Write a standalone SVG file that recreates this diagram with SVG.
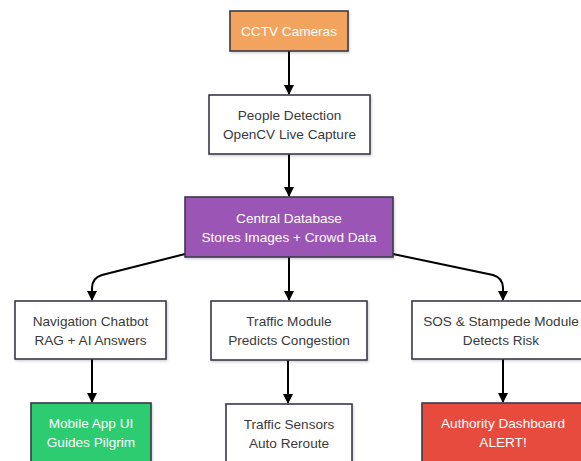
<svg xmlns="http://www.w3.org/2000/svg" width="581" height="461" viewBox="0 0 581 461">
<defs>
<marker id="ah" viewBox="0 0 10 10" refX="9" refY="5" markerWidth="10" markerHeight="10" markerUnits="userSpaceOnUse" orient="auto">
<path d="M0,0 L10,5 L0,10 z" fill="#000"/>
</marker>
<filter id="sh" x="-10%" y="-10%" width="120%" height="130%">
<feDropShadow dx="1" dy="1.5" stdDeviation="1.2" flood-color="#000" flood-opacity="0.18"/>
</filter>
</defs>
<style>
.box{stroke:#3a3a4a;stroke-width:1.6;filter:url(#sh)}
.w{fill:#fff}
.t{font-family:"Liberation Sans",Arial,sans-serif;font-size:13.6px;text-anchor:middle}
.d{fill:#3a3a3a}
.l{fill:#fff}
.c{fill:none;stroke:#000;stroke-width:2}
</style>
<rect width="581" height="461" fill="#fff"/>
<g id="connectors">
<path class="c" d="M289,51 L289,94" marker-end="url(#ah)"/>
<path class="c" d="M289,154 L289,196" marker-end="url(#ah)"/>
<path class="c" d="M185,254 L102,275 Q92,278 92,288 L92,300" marker-end="url(#ah)"/>
<path class="c" d="M289,257 L289,300" marker-end="url(#ah)"/>
<path class="c" d="M393,254 L493,275 Q503,278 503,288 L503,300" marker-end="url(#ah)"/>
<path class="c" d="M92,359 L92,402" marker-end="url(#ah)"/>
<path class="c" d="M288,360 L288,403" marker-end="url(#ah)"/>
<path class="c" d="M503,359 L503,402" marker-end="url(#ah)"/>
</g>
<g id="cctv">
<rect class="box" x="230" y="11" width="118" height="40" fill="#F2A45E"/>
<text class="t l" x="289" y="35.5">CCTV Cameras</text>
</g>
<g id="people">
<rect class="box w" x="209" y="95" width="161" height="59"/>
<text class="t d" x="289.5" y="119.5">People Detection</text>
<text class="t d" x="289.5" y="138.5">OpenCV Live Capture</text>
</g>
<g id="db">
<rect class="box" x="185" y="197" width="208" height="60" fill="#9B55B5"/>
<text class="t l" x="289" y="222.5">Central Database</text>
<text class="t l" x="289" y="241.5">Stores Images + Crowd Data</text>
</g>
<g id="nav">
<rect class="box w" x="15" y="301" width="151" height="58"/>
<text class="t d" x="90.5" y="325.5">Navigation Chatbot</text>
<text class="t d" x="90.5" y="344.5">RAG + AI Answers</text>
</g>
<g id="traffic">
<rect class="box w" x="211" y="301" width="156" height="59"/>
<text class="t d" x="289" y="325.5">Traffic Module</text>
<text class="t d" x="289" y="344.5">Predicts Congestion</text>
</g>
<g id="sos">
<rect class="box w" x="412" y="301" width="182" height="58"/>
<text class="t d" x="501" y="325.5">SOS &amp; Stampede Module</text>
<text class="t d" x="501" y="344.5">Detects Risk</text>
</g>
<g id="mobile">
<rect class="box" x="31" y="403" width="120" height="62" fill="#2ECC71"/>
<text class="t l" x="91" y="428">Mobile App UI</text>
<text class="t l" x="91" y="447">Guides Pilgrim</text>
</g>
<g id="sensors">
<rect class="box w" x="226" y="404" width="126" height="62"/>
<text class="t d" x="289" y="428.5">Traffic Sensors</text>
<text class="t d" x="289" y="447.5">Auto Reroute</text>
</g>
<g id="authority">
<rect class="box" x="422" y="403" width="162" height="62" fill="#E74C3C"/>
<text class="t l" x="503" y="428">Authority Dashboard</text>
<text class="t l" x="503" y="447">ALERT!</text>
</g>
</svg>
